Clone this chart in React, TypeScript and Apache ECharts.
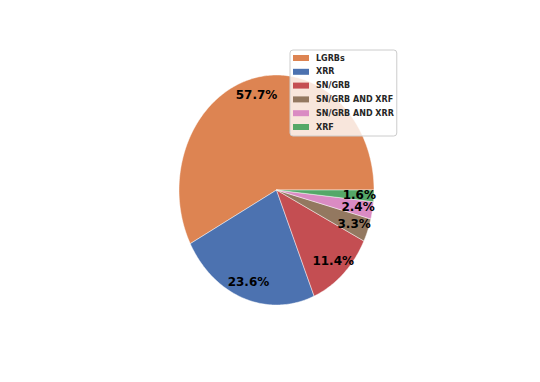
import React, { useEffect, useRef } from "react";
import * as echarts from "echarts";

const categories = ["LGRBs", "XRR", "SN/GRB", "SN/GRB AND XRF", "SN/GRB AND XRR", "XRF"];
const counts = [71, 29, 14, 4, 3, 2];
const colors = ["#DD8452", "#4C72B0", "#C44E52", "#937860", "#DA8BC3", "#55A868"];

const CX = 276.5;
const CY = 190;
const RX = 97.5;
const RY = 115;
const PCT_DIST = 0.85;

export default function App() {
  const ref = useRef<HTMLDivElement>(null);
  useEffect(() => {
    if (!ref.current) return;
    const chart = echarts.init(ref.current, null, { renderer: "svg" });
    const total = counts.reduce((a, b) => a + b, 0);
    const series = categories.map((name, i) => {
      const before = counts.slice(0, i).reduce((a, b) => a + b, 0);
      return {
        type: "custom",
        name,
        coordinateSystem: "none",
        z: 2,
        itemStyle: { color: colors[i] },
        data: [[counts[i]]],
        renderItem: (params: any, api: any) => {
          const v = api.value(0) as number;
          const a0 = (before / total) * Math.PI * 2;
          const a1 = a0 + (v / total) * Math.PI * 2;
          const steps = Math.max(4, Math.ceil(((a1 - a0) * 180) / Math.PI));
          const pts: number[][] = [[CX, CY]];
          for (let k = 0; k <= steps; k++) {
            const a = a0 + ((a1 - a0) * k) / steps;
            pts.push([CX + RX * Math.cos(a), CY - RY * Math.sin(a)]);
          }
          const mid = (a0 + a1) / 2;
          const lx = CX + PCT_DIST * RX * Math.cos(mid);
          const ly = CY - PCT_DIST * RY * Math.sin(mid);
          return {
            type: "group",
            children: [
              {
                type: "polygon",
                shape: { points: pts },
                style: { fill: colors[i], stroke: "rgba(255,255,255,0.75)", lineWidth: 0.6 },
              },
              {
                type: "text",
                z2: 100,
                style: {
                  text: ((v / total) * 100).toFixed(1) + "%",
                  x: lx,
                  y: ly,
                  align: "center",
                  verticalAlign: "middle",
                  fill: "#000000",
                  fontSize: 12,
                  fontWeight: "bold",
                  fontFamily: "DejaVu Sans",
                },
              },
            ],
          };
        },
      };
    });
    chart.setOption({
      animation: false,
      backgroundColor: "#ffffff",
      legend: {
        data: categories,
        orient: "vertical",
        left: 290,
        top: 50,
        icon: "rect",
        itemWidth: 16,
        itemHeight: 6,
        itemGap: 5.8,
        padding: [4, 3, 5, 3],
        selectedMode: false,
        backgroundColor: "rgba(255,255,255,0.8)",
        borderColor: "#cccccc",
        borderWidth: 1,
        borderRadius: 3,
        textStyle: {
          fontSize: 8,
          fontWeight: "bold",
          fontFamily: "DejaVu Sans",
          color: "#262626",
          padding: [0, 0, 0, 2],
        },
      },
      series,
    } as any);
    return () => chart.dispose();
  }, []);
  return (
    <div
      ref={ref}
      style={{ position: "absolute", left: 0, top: 0, width: 540, height: 382, background: "#fff" }}
    />
  );
}
